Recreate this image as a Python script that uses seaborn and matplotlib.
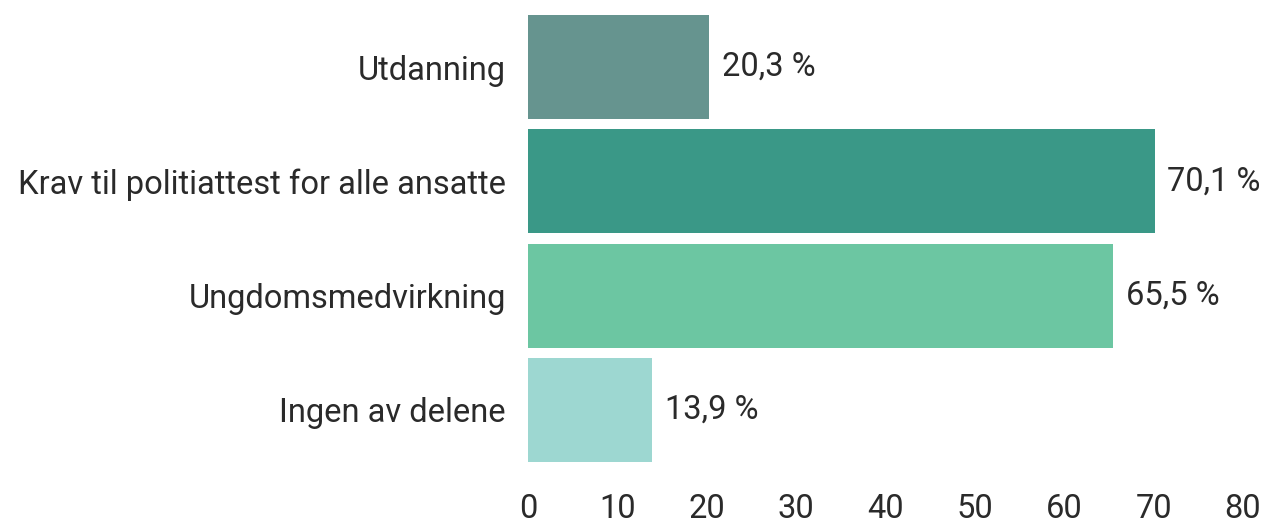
import matplotlib
matplotlib.use("Agg")
import matplotlib.pyplot as plt
import seaborn as sns
import pandas as pd

sns.set_style("white")
plt.rcParams["font.family"] = ["Roboto", "DejaVu Sans"]

# ------------------ Dados ------------------ #
kategorier = ["Utdanning", "Krav til politiattest for alle ansatte",
              "Ungdomsmedvirkning", "Ingen av delene"]
verdier = [20.3, 70.1, 65.5, 13.9]
farger = ["#66948F", "#3A9887", "#6CC6A2", "#9DD7D1"]
x_ticks = [0, 10, 20, 30, 40, 50, 60, 70, 80]

df = pd.DataFrame({"kategori": kategorier, "verdi": verdier})

fig = plt.figure(figsize=(12.65, 5.24), dpi=100)
ax = fig.add_axes([0.4174, 0.109, 0.5652, 0.872])

sns.barplot(data=df, x="verdi", y="kategori", hue="kategori", palette=farger,
            legend=False, width=0.91, saturation=1, linewidth=0, ax=ax)

tekstfarge = "#2a2a2a"
fs = 23.5
for i, v in enumerate(verdier):
    ax.text(v + 1.45, i, f"{v:.1f} %".replace(".", ","), va="center", ha="left",
            fontsize=fs, color=tekstfarge)

ax.set_xlim(0, 80)
ax.set_ylim(3.5, -0.5)
ax.set_xticks(x_ticks)
ax.set_xticklabels([str(t) for t in x_ticks])
ax.set_xlabel("")
ax.set_ylabel("")
ax.tick_params(axis="x", length=0, pad=19, labelsize=fs, labelcolor=tekstfarge)
ax.tick_params(axis="y", length=0, pad=16, labelsize=fs, labelcolor=tekstfarge)
sns.despine(ax=ax, left=True, bottom=True)

fig.savefig("out.png", dpi=100)
